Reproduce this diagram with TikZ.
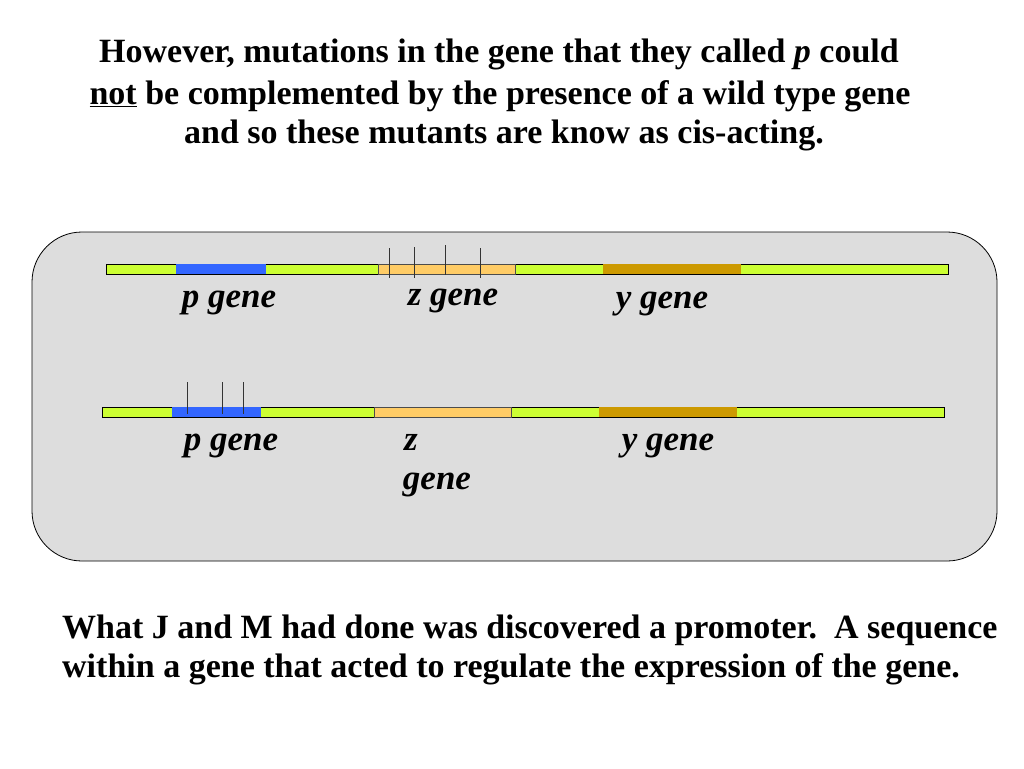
\documentclass[tikz,border=0pt]{standalone}
\usepackage{fontspec}
\setmainfont{Liberation Serif}
\definecolor{cajagris}{HTML}{DDDDDD}
\definecolor{barverde}{HTML}{CCFF33}
\definecolor{genp}{HTML}{3366FF}
\definecolor{genz}{HTML}{FFCC66}
\definecolor{geny}{HTML}{CC9900}
\begin{document}
\begin{tikzpicture}[x=1pt, y=-1pt,
    titulo/.style={font=\fontsize{34}{41}\selectfont\bfseries, inner sep=0pt, anchor=base},
    etiqueta/.style={font=\fontsize{35}{40}\selectfont\bfseries\itshape, inner sep=0pt, anchor=base},
    barra/.style={draw=black, line width=0.8pt, fill=barverde},
    marca/.style={draw=black!80, line width=0.9pt}]
    \useasboundingbox (0,0) rectangle (1024,768);
    \fill[white] (0,0) rectangle (1024,768);

    % === TITULO ===
    \node[titulo] (t1) at (499, 63) {However, mutations in the gene that they called \textit{p} could};
    \node[titulo] (t2) at (500, 104) {\underline{not} be complemented by the presence of a wild type gene};
    \node[titulo] (t3) at (504, 143) {and so these mutants are know as cis-acting.};

    % === CAJA ===
    \draw[fill=cajagris, line width=0.8pt, rounded corners=50pt] (32,232) rectangle (997,561);

    % === CROMOSOMA 1 (mutaciones en z) ===
    \draw[barra] (106,264) rectangle (948,274);
    \fill[genp] (176,264) rectangle (266,274);
    \draw[fill=genz, draw=black!70, line width=0.6pt] (378,264) rectangle (515,274);
    \fill[geny] (603,264) rectangle (741,274);
    % marcas de mutacion
    \draw[marca] (389,248) -- (389,278);
    \draw[marca] (414,247) -- (414,278);
    \draw[marca] (445,245) -- (445,275);
    \draw[marca] (480,248) -- (480,278);

    \node[etiqueta] (p1) at (229, 307) {p gene};
    \node[etiqueta] (z1) at (453, 305) {z gene};
    \node[etiqueta] (y1) at (662, 308) {y gene};

    % === CROMOSOMA 2 (mutaciones en p) ===
    \draw[barra] (102,407) rectangle (944,417);
    \fill[genp] (172,407) rectangle (261,417);
    \draw[fill=genz, draw=black!70, line width=0.6pt] (374,407) rectangle (511,417);
    \fill[geny] (599,407) rectangle (737,417);
    % marcas de mutacion
    \draw[marca] (187,382) -- (187,414);
    \draw[marca] (222,382) -- (222,414);
    \draw[marca] (243,382) -- (243,414);

    \node[etiqueta] (p2) at (231, 450) {p gene};
    \node[etiqueta] (z2) at (411, 450) {z};
    \node[etiqueta] (z2b) at (437, 489) {gene};
    \node[etiqueta] (y2) at (668, 450) {y gene};

    % === TEXTO FINAL ===
    \node[titulo, anchor=base west] (b1) at (62, 638) {What J and M had done was discovered a promoter.\ \ A sequence};
    \node[titulo, anchor=base west] (b2) at (62, 677) {within a gene that acted to regulate the expression of the gene.};
\end{tikzpicture}
\end{document}
